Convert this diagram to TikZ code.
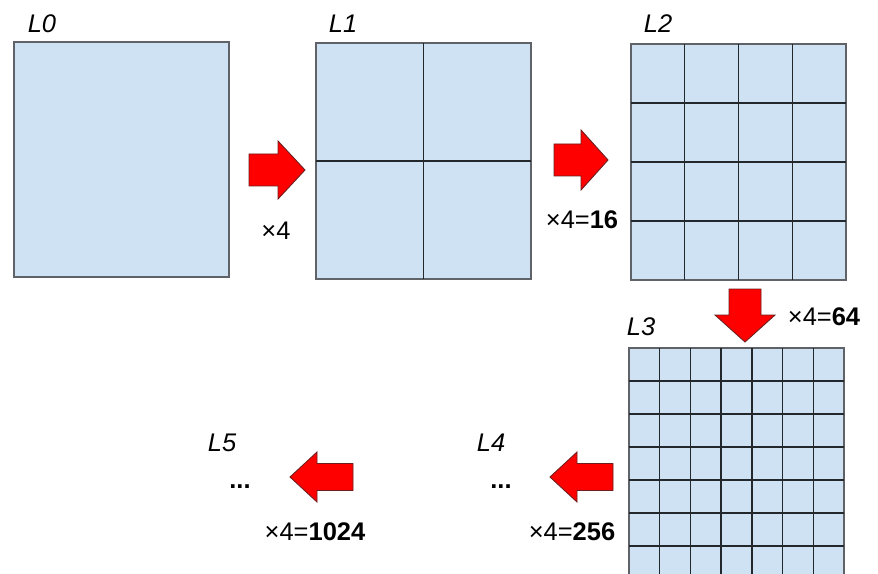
\documentclass[tikz,border=0pt]{standalone}
\usepackage{fontspec}
\setmainfont{Liberation Sans}
\usetikzlibrary{calc}
\definecolor{cell-fill}{RGB}{207,226,243}
\definecolor{cell-edge}{RGB}{95,99,104}
\definecolor{grid-lig}{RGB}{35,40,45}
\definecolor{Red}{RGB}{255,0,0}
\definecolor{arrow-edge}{RGB}{110,30,30}
\tikzset{
  level/.style={draw=cell-edge, fill=cell-fill, line width=0.9pt, inner sep=0pt, outer sep=0pt, minimum width=4.3cm, minimum height=4.7cm},
  gridline/.style={draw=grid-lig, line width=0.8pt},
  lvl/.style={font=\itshape\fontsize{14.5}{17}\selectfont, inner sep=0pt},
  count/.style={font=\fontsize{14.5}{17}\selectfont, inner sep=0pt},
  arrowbody/.style={fill=Red, draw=arrow-edge, line width=0.5pt, line join=miter},
  pics/blockarrow/.style n args={4}{code={
    \draw[arrowbody] (-#1/2,-#3/2) -- ({#1/2-#4},-#3/2) -- ({#1/2-#4},-#2/2) -- (#1/2,0)
      -- ({#1/2-#4},#2/2) -- ({#1/2-#4},#3/2) -- (-#1/2,#3/2) -- cycle;
  }}
}
\begin{document}
\begin{tikzpicture}[x=0.02cm,y=-0.02cm]
\clip (0,0) rectangle (878,574);
\fill[white] (0,0) rectangle (878,574);

% levels
\node[level] (L0) at (121.5,159.5) {};
\node[level, minimum height=4.72cm] (L1) at (423.5,161) {};
\node[level, minimum height=4.72cm] (L2) at (738.5,162) {};
\node[level, minimum height=4.62cm] (L3) at (736.5,463.5) {};

% subdivisions
\draw[gridline] (L1.north) -- (L1.south);
\draw[gridline] (L1.west) -- (L1.east);
\foreach \i in {1,...,3} {
  \draw[gridline] ($(L2.north west)!\i/4!(L2.north east)$) -- ($(L2.south west)!\i/4!(L2.south east)$);
  \draw[gridline] ($(L2.north west)!\i/4!(L2.south west)$) -- ($(L2.north east)!\i/4!(L2.south east)$);
}
\foreach \i in {1,...,6} {
  \draw[gridline] ($(L3.north west)!\i/7!(L3.north east)$) -- ($(L3.south west)!\i/7!(L3.south east)$);
  \draw[gridline] ($(L3.north west)!\i/7!(L3.south west)$) -- ($(L3.north east)!\i/7!(L3.south east)$);
}

% level names
\node[lvl] (name0) at (42,24) {L0};
\node[lvl] (name1) at (343,24) {L1};
\node[lvl] (name2) at (658,24) {L2};
\node[lvl] (name3) at (641,327) {L3};
\node[lvl] (name4) at (491,443) {L4};
\node[lvl] (name5) at (222,443) {L5};
\node[count] (dots4) at (501,487) {\textbf{...}};
\node[count] (dots5) at (240,487) {\textbf{...}};

% block arrows
\pic (step1) at (277,170) {blockarrow={56}{58}{32}{27}};
\pic (step2) at (581,160) {blockarrow={54}{60}{32}{27}};
\pic[rotate=-90] (step3) at (745,315.5) {blockarrow={53}{60}{32}{27}};
\pic[rotate=180] (step4) at (581.5,477) {blockarrow={63}{50}{27}{27}};
\pic[rotate=180] (step5) at (321.5,477) {blockarrow={63}{50}{27}{27}};

% counts
\node[count] (count1) at (276,231) {×4};
\node[count] (count2) at (582,220) {×4=\textbf{16}};
\node[count] (count3) at (824,317) {×4=\textbf{64}};
\node[count] (count4) at (572,532) {×4=\textbf{256}};
\node[count] (count5) at (315,532) {×4=\textbf{1024}};
\end{tikzpicture}
\end{document}
